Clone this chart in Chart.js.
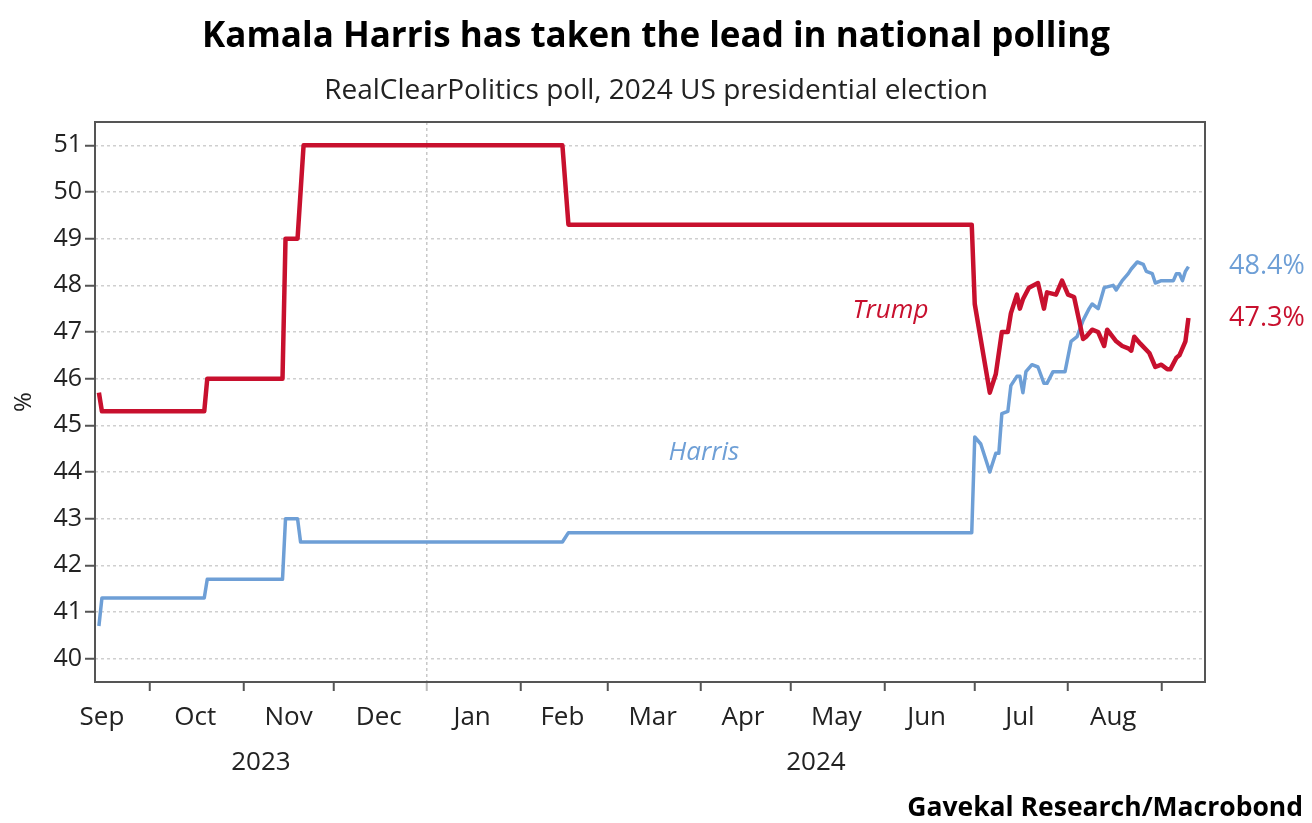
<!DOCTYPE html>
<html>
<head>
<meta charset="utf-8">
<script src="https://cdn.jsdelivr.net/npm/chart.js@4.4.1/dist/chart.umd.min.js"></script>
<style>
  html, body { margin: 0; padding: 0; background: #fff; }
  #wrap { width: 1312px; height: 823px; }
</style>
</head>
<body>
<div id="wrap"><canvas id="poll-chart" width="1312" height="823"></canvas></div>
<script>
// days are counted from 1 Jan 2024 (negative = 2023)
const trumpDays = [-109, -108, -74, -73, -48, -47, -43, -41, 45, 47, 181, 182, 187, 189, 191, 193, 194, 196, 197, 198, 200, 203, 205, 206, 209, 211, 213, 215, 218, 219, 221, 223, 225, 226, 229, 231, 233, 234, 235, 237, 240, 242, 244, 246, 247, 249, 250, 252, 253];
const trumpValues = [45.7, 45.3, 45.3, 46.0, 46.0, 49.0, 49.0, 51.0, 51.0, 49.3, 49.3, 47.6, 45.7, 46.1, 47.0, 47.0, 47.4, 47.8, 47.5, 47.7, 47.95, 48.05, 47.5, 47.85, 47.8, 48.1, 47.8, 47.75, 46.85, 46.9, 47.05, 47.0, 46.7, 47.05, 46.8, 46.7, 46.65, 46.6, 46.9, 46.75, 46.55, 46.25, 46.3, 46.2, 46.2, 46.45, 46.5, 46.8, 47.3];

const harrisDays = [-109, -108, -74, -73, -48, -47, -43, -42, 45, 47, 181, 182, 184, 187, 189, 190, 191, 193, 194, 196, 197, 198, 199, 201, 203, 205, 206, 208, 210, 212, 214, 216, 218, 220, 221, 223, 225, 228, 229, 231, 233, 234, 236, 238, 239, 241, 242, 244, 248, 249, 250, 251, 252, 253];
const harrisValues = [40.7, 41.3, 41.3, 41.7, 41.7, 43.0, 43.0, 42.5, 42.5, 42.7, 42.7, 44.75, 44.6, 44.0, 44.4, 44.4, 45.25, 45.3, 45.85, 46.05, 46.05, 45.7, 46.15, 46.3, 46.25, 45.9, 45.9, 46.15, 46.15, 46.15, 46.8, 46.9, 47.25, 47.5, 47.6, 47.5, 47.95, 48.0, 47.9, 48.1, 48.25, 48.35, 48.5, 48.45, 48.3, 48.25, 48.05, 48.1, 48.1, 48.25, 48.25, 48.1, 48.3, 48.4];

const monthStarts = [-92, -61, -31, 0, 31, 60, 91, 121, 152, 182, 213, 244];
const monthLabels = ['Sep', 'Oct', 'Nov', 'Dec', 'Jan', 'Feb', 'Mar', 'Apr', 'May', 'Jun', 'Jul', 'Aug'];
const monthMids = [-108, -77, -46, -16, 15, 45, 75, 105, 136, 166, 197, 228];
const yearLabels = ['2023', '2024'];
const yTicks = [40, 41, 42, 43, 44, 45, 46, 47, 48, 49, 50, 51];

const RED = '#c8102e';
const BLUE = '#6e9fd6';
const FONT = '"Open Sans", "Noto Sans", sans-serif';

const toPoints = (days, vals) => days.map((d, i) => ({ x: d, y: vals[i] }));

// extra text: title, subtitle, month/year labels, end labels, box
const extrasPlugin = {
    id: 'extras',
    afterDraw(chart) {
        const ctx = chart.ctx;
        const area = chart.chartArea;
        const xs = chart.scales.x;
        const ys = chart.scales.y;
        ctx.save();

        // frame round the plot
        ctx.strokeStyle = '#555';
        ctx.lineWidth = 2;
        ctx.strokeRect(area.left, area.top, area.right - area.left, area.bottom - area.top);

        // month labels
        ctx.fillStyle = '#222';
        ctx.font = '26px ' + FONT;
        ctx.textAlign = 'center';
        ctx.textBaseline = 'middle';
        monthLabels.forEach((m, i) => {
            ctx.fillText(m, xs.getPixelForValue(monthMids[i]), 718);
        });
        // year labels, centred on visible part of each year
        const y0 = (xs.getPixelForValue(xs.min) + xs.getPixelForValue(0)) / 2;
        const y1 = (xs.getPixelForValue(0) + xs.getPixelForValue(xs.max)) / 2;
        ctx.fillText(yearLabels[0], y0, 763);
        ctx.fillText(yearLabels[1], y1, 763);

        // last values on the right
        const lastH = harrisValues[harrisValues.length - 1];
        const lastT = trumpValues[trumpValues.length - 1];
        ctx.textAlign = 'left';
        ctx.font = '27px ' + FONT;
        ctx.fillStyle = BLUE;
        ctx.fillText(lastH.toFixed(1) + '%', area.right + 24, ys.getPixelForValue(lastH));
        ctx.fillStyle = RED;
        ctx.fillText(lastT.toFixed(1) + '%', area.right + 24, ys.getPixelForValue(lastT));

        // series names
        ctx.textAlign = 'center';
        ctx.font = 'italic 26px ' + FONT;
        ctx.fillStyle = RED;
        ctx.fillText('Trump', xs.getPixelForValue(154), ys.getPixelForValue(47.45));
        ctx.fillStyle = BLUE;
        ctx.fillText('Harris', xs.getPixelForValue(92), ys.getPixelForValue(44.42));

        // title block
        ctx.fillStyle = '#000';
        ctx.font = 'bold 35px ' + FONT;
        ctx.fillText('Kamala Harris has taken the lead in national polling', 656, 37, 922);
        ctx.fillStyle = '#222';
        ctx.font = '28px ' + FONT;
        ctx.fillText('RealClearPolitics poll, 2024 US presidential election', 656, 91, 673);
        ctx.fillStyle = '#000';
        ctx.textAlign = 'right';
        ctx.font = 'bold 26.5px ' + FONT;
        ctx.fillText('Gavekal Research/Macrobond', 1303, 808, 398);
        ctx.restore();
    }
};

const ctx = document.getElementById('poll-chart').getContext('2d');
const pollChart = new Chart(ctx, {
    type: 'line',
    data: {
        datasets: [
            {
                label: 'Trump',
                data: toPoints(trumpDays, trumpValues),
                borderColor: RED,
                borderWidth: 4.5,
                pointRadius: 0,
                tension: 0,
                borderJoinStyle: 'round',
            },
            {
                label: 'Harris',
                data: toPoints(harrisDays, harrisValues),
                borderColor: BLUE,
                borderWidth: 3.5,
                pointRadius: 0,
                tension: 0,
                borderJoinStyle: 'round',
            },
        ],
    },
    options: {
        responsive: false,
        animation: false,
        layout: { padding: { top: 122, left: 0, right: 107, bottom: 0 } },
        plugins: {
            legend: { display: false },
            tooltip: { enabled: false },
        },
        scales: {
            x: {
                type: 'linear',
                min: -110.3,
                max: 258.5,
                afterBuildTicks: (scale) => { scale.ticks = monthStarts.map(v => ({ value: v })); },
                afterFit: (scale) => { scale.height = 141; },
                ticks: { callback: () => '', autoSkip: false },
                grid: {
                    color: (c) => (c.tick && c.tick.value === 0 ? '#c8c8c8' : 'rgba(0,0,0,0)'),
                    tickColor: (c) => (c.tick && c.tick.value === 0 ? '#bbb' : '#555'),
                    tickLength: 9,
                    tickWidth: 2,
                    lineWidth: 1.5,
                },
                border: { display: false, dash: [3, 3] },
            },
            y: {
                min: 39.5,
                max: 51.5,
                afterBuildTicks: (scale) => { scale.ticks = yTicks.map(v => ({ value: v })); },
                afterFit: (scale) => { scale.width = 95; },
                ticks: { color: '#222', font: { family: FONT, size: 25 }, padding: 3 },
                grid: { color: '#cfcfcf', tickColor: '#555', tickLength: 10, tickWidth: 2, lineWidth: 1.5 },
                border: { display: false, dash: [3, 3] },
                title: { display: true, text: '%', color: '#222', font: { family: FONT, size: 24 }, padding: { top: 10, bottom: 0 } },
            },
        },
    },
    plugins: [extrasPlugin],
});
</script>
</body>
</html>
